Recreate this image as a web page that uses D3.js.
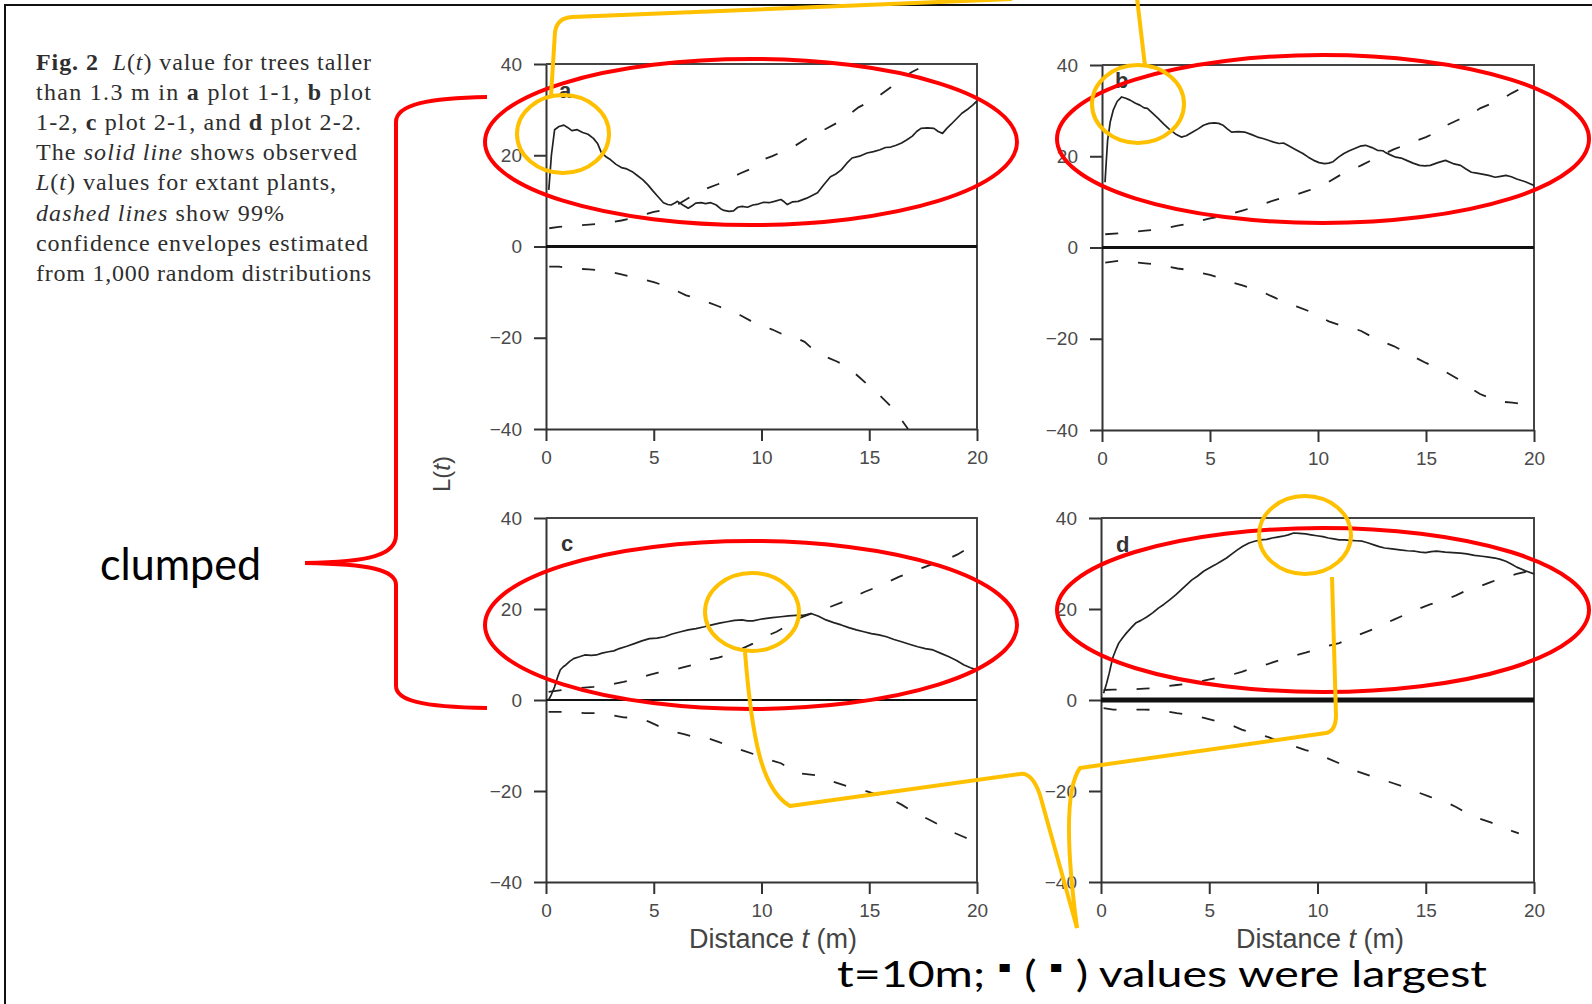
<!DOCTYPE html>
<html>
<head>
<meta charset="utf-8">
<script src="https://cdnjs.cloudflare.com/ajax/libs/d3/7.8.5/d3.min.js"></script>
<style>
  body { margin: 0; background: #fff; }
  svg { display: block; }
  .tick text { font-family: "Liberation Sans", Arial, sans-serif; font-size: 19px; fill: #4a4a4a; }
  .domain, .tick line { stroke: #333; stroke-width: 2; }
</style>
</head>
<body>
<svg id="chart" width="1592" height="1004"></svg>
<script>
// axis ticks
const xTicks = [0, 5, 10, 15, 20];
const yTicks = [-40, -20, 0, 20, 40];

// observed L(t) (solid) and 99% envelopes (dashed), [t, L]
const obsA = [[0.13,12.4],[0.25,20],[0.4,25.6],[0.6,26.3],[0.83,26.6],[1.0,26.1],[1.2,25.4],[1.45,25.6],[1.7,25.0],[1.95,24.6],[2.2,23.7],[2.4,22.5],[2.56,20.7],[2.8,19.6],[3.0,19.0],[3.25,18.0],[3.5,17.3],[3.75,17.0],[4.0,16.4],[4.25,15.5],[4.5,14.6],[4.75,13.4],[4.96,12.2],[5.2,10.9],[5.45,9.6],[5.65,9.2],[5.8,9.1],[6.0,9.6],[6.1,9.9],[6.35,9.1],[6.6,8.4],[6.8,9.0],[6.95,9.5],[7.2,9.6],[7.4,9.4],[7.65,9.6],[7.9,9.1],[8.1,8.3],[8.26,7.9],[8.5,7.7],[8.7,7.8],[8.9,8.6],[9.1,8.8],[9.35,8.6],[9.6,9.1],[9.85,9.3],[10.1,9.7],[10.35,9.6],[10.6,9.9],[10.9,10.3],[11.05,9.8],[11.2,9.2],[11.45,9.8],[11.7,9.9],[12.1,10.6],[12.35,11.2],[12.6,11.8],[12.9,13.6],[13.2,15.3],[13.45,15.9],[13.7,16.8],[13.95,18.2],[14.2,19.4],[14.55,19.8],[14.9,20.5],[15.2,20.8],[15.5,21.2],[15.75,21.7],[16.0,21.8],[16.25,22.2],[16.5,22.7],[16.75,23.4],[17.0,24.2],[17.2,25.2],[17.4,25.9],[17.7,26.0],[18.0,25.9],[18.2,25.2],[18.4,24.8],[18.6,25.9],[18.8,26.8],[19.05,28.0],[19.3,29.2],[19.6,30.2],[19.8,31.0],[20.0,31.9]];
const upA = [[0.15,4.0],[0.6,4.3],[1.0,4.4],[1.5,4.6],[2.0,4.8],[2.5,5.0],[3.0,5.3],[3.5,5.7],[4.0,6.2],[4.5,6.9],[5.0,7.6],[5.5,8.0],[6.0,8.9],[6.5,10.3],[7.0,11.8],[7.5,12.8],[8.0,13.7],[8.5,14.9],[9.0,16.0],[9.5,17.0],[10.0,18.9],[10.5,19.8],[11.0,20.9],[11.5,21.9],[12.0,23.4],[12.5,24.7],[13.0,25.8],[13.5,27.1],[14.0,28.7],[14.5,30.5],[15.0,31.7],[15.5,33.2],[16.0,34.9],[16.5,36.8],[17.0,38.3],[17.3,39.0]];
const loA = [[0.15,-4.4],[0.6,-4.4],[1.0,-4.7],[1.5,-4.9],[2.0,-5.0],[2.5,-5.2],[3.0,-5.6],[3.5,-6.1],[4.0,-6.7],[4.5,-7.2],[5.0,-7.8],[5.5,-8.6],[6.0,-9.6],[6.5,-10.7],[7.0,-11.4],[7.5,-12.2],[8.0,-13.1],[8.5,-14.0],[9.0,-15.0],[9.5,-16.3],[10.0,-17.3],[10.5,-18.2],[11.0,-19.3],[11.5,-19.8],[12.0,-20.9],[12.5,-23.0],[13.0,-24.2],[13.5,-25.2],[14.0,-26.4],[14.5,-28.5],[15.0,-30.6],[15.5,-32.7],[16.0,-35.0],[16.5,-38.0],[16.8,-40.0]];

const obsB = [[0.14,14.3],[0.2,19],[0.26,23.5],[0.38,27.5],[0.52,30.1],[0.7,32],[0.91,33.0],[1.1,32.7],[1.3,32.3],[1.55,31.6],[1.75,31.2],[1.95,30.6],[2.1,30.5],[2.35,29.4],[2.6,28.3],[2.85,27.1],[3.1,26.0],[3.4,24.9],[3.67,24.2],[3.9,24.5],[4.2,25.3],[4.45,26.0],[4.7,26.8],[4.95,27.2],[5.2,27.3],[5.4,27.2],[5.6,26.8],[5.8,26.0],[6.0,25.3],[6.3,25.4],[6.6,25.3],[6.9,24.8],[7.2,24.2],[7.45,23.9],[7.7,23.5],[7.95,23.1],[8.2,22.8],[8.4,22.9],[8.6,22.4],[8.95,21.5],[9.3,20.6],[9.55,19.8],[9.8,19.1],[10.05,18.6],[10.3,18.4],[10.5,18.5],[10.7,18.8],[10.95,19.8],[11.2,20.6],[11.45,21.2],[11.7,21.7],[11.95,22.2],[12.2,22.4],[12.5,21.9],[12.75,21.3],[13.0,21.2],[13.1,20.9],[13.35,20.3],[13.6,19.8],[13.85,19.6],[14.1,19.1],[14.4,18.5],[14.7,18.0],[14.95,17.9],[15.2,18.0],[15.55,18.6],[15.9,19.1],[16.25,18.4],[16.6,18.0],[16.85,17.2],[17.1,16.5],[17.35,16.3],[17.6,16.1],[17.9,15.8],[18.2,15.4],[18.45,15.6],[18.7,15.8],[18.95,15.5],[19.2,15.0],[19.6,14.4],[20.0,13.6]];
const upB = [[0.15,2.9],[0.8,3.1],[1.4,3.4],[2.0,3.7],[2.5,3.9],[3.0,4.3],[3.5,4.8],[4.0,5.2],[4.5,5.8],[5.0,6.4],[5.5,6.8],[6.0,7.4],[6.5,8.1],[7.0,8.8],[7.5,9.6],[8.0,10.4],[8.5,11.1],[9.0,11.6],[9.5,12.4],[10.0,13.2],[10.5,14.4],[11.0,15.8],[11.5,16.9],[12.0,18.0],[12.5,19.2],[13.0,20.4],[13.5,21.5],[14.0,22.4],[14.5,23.3],[15.0,24.2],[15.5,25.3],[16.0,26.9],[16.5,28.0],[17.0,29.0],[17.5,30.5],[18.0,31.5],[18.5,32.5],[19.0,33.9],[19.5,35.1],[20.0,36.0]];
const loB = [[0.15,-3.3],[0.8,-2.9],[1.4,-3.2],[2.0,-3.5],[2.5,-3.7],[3.0,-4.1],[3.5,-4.6],[4.0,-4.9],[4.5,-5.5],[5.0,-6.0],[5.5,-6.7],[6.0,-7.6],[6.5,-8.3],[7.0,-9.1],[7.5,-9.9],[8.0,-11.0],[8.5,-12.1],[9.0,-12.9],[9.5,-13.8],[10.0,-15.0],[10.5,-16.2],[11.0,-17.0],[11.5,-17.5],[12.0,-18.3],[12.5,-19.6],[13.0,-20.7],[13.5,-21.6],[14.0,-22.8],[14.5,-24.1],[15.0,-25.3],[15.5,-26.4],[16.0,-27.5],[16.5,-28.9],[17.0,-30.6],[17.5,-32.1],[18.0,-33.1],[18.5,-33.8],[19.0,-34.0],[19.5,-34.3],[20.0,-34.9]];

const obsC = [[0.12,0],[0.25,1.2],[0.4,2.9],[0.55,5.2],[0.66,6.6],[0.8,7.3],[0.92,7.7],[1.1,8.5],[1.28,9.1],[1.55,9.5],[1.8,9.9],[2.1,9.8],[2.34,9.9],[2.6,10.3],[2.9,10.6],[3.15,10.8],[3.4,11.3],[3.75,11.8],[4.1,12.4],[4.45,13.0],[4.8,13.5],[5.15,13.6],[5.5,13.9],[5.85,14.5],[6.25,15.0],[6.6,15.4],[6.96,15.7],[7.35,16.1],[7.7,16.5],[8.05,16.9],[8.4,17.2],[8.75,17.5],[9.1,17.6],[9.35,17.4],[9.6,17.4],[9.9,17.7],[10.15,17.9],[10.5,18.1],[10.9,18.3],[11.25,18.5],[11.6,18.6],[11.95,18.6],[12.3,19.0],[12.65,18.4],[12.99,17.6],[13.35,17.0],[13.7,16.5],[14.05,15.9],[14.4,15.4],[14.75,15.0],[15.1,14.6],[15.45,14.3],[15.8,13.9],[16.15,13.3],[16.5,12.8],[16.9,12.2],[17.25,11.7],[17.6,11.3],[17.96,11.0],[18.3,10.3],[18.7,9.5],[19.05,8.7],[19.4,7.7],[19.7,7.1],[20.0,6.6]];
const upC = [[0.12,1.8],[0.75,2.2],[1.45,2.6],[2.2,2.9],[2.7,3.3],[3.2,3.6],[3.6,4.0],[4.3,4.8],[4.8,5.5],[5.2,6.0],[5.9,6.6],[6.4,7.2],[6.8,7.7],[7.5,8.8],[8.0,9.3],[8.4,9.9],[9.1,11.3],[9.6,12.4],[10.15,13.9],[10.7,15.0],[11.2,16.4],[11.7,17.9],[12.3,19.0],[12.8,19.8],[13.2,20.5],[13.8,21.6],[14.3,22.7],[14.8,23.8],[15.4,24.9],[15.9,26.0],[16.4,27.1],[17.0,28.2],[17.5,29.1],[18.0,30.0],[18.7,31.1],[19.1,32.0],[19.55,33.3],[20.0,33.8]];
const loC = [[0.12,-2.6],[0.75,-2.6],[1.3,-2.7],[1.8,-2.9],[2.5,-2.9],[3.0,-3.3],[3.6,-3.8],[4.3,-4.0],[4.8,-4.8],[5.2,-5.7],[5.9,-6.9],[6.4,-7.5],[6.8,-8.0],[7.5,-8.4],[8.0,-9.2],[8.55,-10.2],[9.26,-11.3],[9.7,-12.0],[10.15,-12.8],[10.9,-13.9],[11.3,-15.0],[11.7,-16.1],[12.5,-16.5],[13.3,-17.9],[14.0,-19.0],[14.5,-19.6],[14.9,-20.1],[15.65,-21.2],[16.1,-22.0],[16.5,-23.0],[17.25,-25.2],[17.7,-26.1],[18.1,-27.1],[18.8,-28.9],[19.4,-30.1],[20.0,-31.4]];

const obsD = [[0.12,1.5],[0.25,3.5],[0.38,5.9],[0.47,7.8],[0.56,9.5],[0.7,11.2],[0.82,12.5],[1.0,13.7],[1.17,14.7],[1.4,15.9],[1.6,16.9],[1.85,17.5],[2.13,18.3],[2.4,19.2],[2.65,20.2],[2.9,21.0],[3.17,22.0],[3.45,23.1],[3.7,24.2],[3.95,25.3],[4.2,26.4],[4.45,27.2],[4.74,28.3],[5.0,29.0],[5.27,29.7],[5.55,30.5],[5.8,31.2],[6.05,32.1],[6.3,33.0],[6.55,33.8],[6.84,34.5],[7.1,34.9],[7.37,35.2],[7.65,35.3],[7.9,35.6],[8.15,35.8],[8.4,36.0],[8.65,36.3],[8.9,36.7],[9.15,36.6],[9.45,36.5],[9.7,36.3],[9.97,36.1],[10.25,35.9],[10.5,35.6],[10.75,35.4],[11.0,35.2],[11.25,35.2],[11.5,35.1],[11.8,35.0],[12.07,34.9],[12.35,34.5],[12.6,34.1],[12.85,33.7],[13.1,33.4],[13.45,33.2],[13.8,33.0],[14.15,32.8],[14.5,32.7],[14.75,32.5],[15.0,32.4],[15.25,32.6],[15.5,32.7],[15.9,32.5],[16.25,32.4],[16.6,32.3],[16.9,32.1],[17.25,31.8],[17.6,31.6],[17.9,31.4],[18.2,31.2],[18.45,30.9],[18.7,30.5],[18.95,29.9],[19.2,29.2],[19.6,28.4],[20.0,27.7]];
const upD = [[0.12,2.2],[0.56,2.3],[1.4,2.3],[2.0,2.5],[2.5,2.6],[3.0,3.0],[3.5,3.3],[4.2,3.7],[4.8,4.3],[5.3,4.8],[6.0,5.5],[6.5,6.2],[7.0,7.0],[7.7,7.9],[8.2,8.7],[8.75,9.5],[9.45,10.4],[10.0,11.2],[10.3,11.7],[11.0,12.5],[11.5,13.5],[11.9,14.3],[12.6,15.6],[13.0,16.6],[13.5,17.6],[14.2,19.1],[14.7,20.1],[15.2,21.0],[15.9,22.0],[16.4,23.0],[16.8,23.9],[17.5,25.0],[18.0,25.9],[18.5,26.8],[19.2,27.7],[20.0,28.6]];
const loD = [[0.12,-1.8],[0.56,-2.1],[1.4,-2.1],[2.0,-2.1],[2.5,-2.2],[3.0,-2.5],[3.5,-2.9],[4.2,-3.3],[4.8,-4.0],[5.3,-4.6],[6.0,-5.5],[6.5,-6.5],[7.0,-7.3],[7.7,-8.1],[8.2,-9.0],[8.75,-9.9],[9.45,-11.0],[10.0,-11.8],[10.3,-12.5],[11.0,-13.9],[11.5,-14.9],[11.9,-15.8],[12.6,-16.9],[13.0,-17.5],[13.5,-18.3],[14.2,-19.4],[14.7,-20.4],[15.2,-21.3],[15.9,-22.4],[16.4,-23.5],[16.8,-24.6],[17.5,-26.1],[18.0,-26.9],[18.5,-27.9],[19.0,-28.8],[19.3,-29.3]];

// caption text, [words, style]
const caption = [
  [["Fig. 2", "b"], ["  "], ["L", "i"], ["("], ["t", "i"], [") value for trees taller"]],
  [["than 1.3 m in "], ["a", "b"], [" plot 1-1, "], ["b", "b"], [" plot"]],
  [["1-2, "], ["c", "b"], [" plot 2-1, and "], ["d", "b"], [" plot 2-2."]],
  [["The "], ["solid line", "i"], [" shows observed"]],
  [["L", "i"], ["("], ["t", "i"], [") values for extant plants,"]],
  [["dashed lines", "i"], [" show 99%"]],
  [["confidence envelopes estimated"]],
  [["from 1,000 random distributions"]]
];
const captionWidths = [335, 335, 325, 321, 300, 248, 332, 335];

const svg = d3.select('#chart');
svg.append('rect').attr('width', 1592).attr('height', 1004).attr('fill', '#fff');

// slide border
svg.append('path')
  .attr('d', 'M5,1004V5H1592')
  .attr('fill', 'none').attr('stroke', '#111').attr('stroke-width', 2);

// caption
caption.forEach((line, i) => {
  const t = svg.append('text')
    .attr('x', 36).attr('y', 70 + i * 30.1)
    .attr('textLength', captionWidths[i]).attr('lengthAdjust', 'spacing')
    .style('font-family', '"Liberation Serif", "Times New Roman", serif')
    .style('font-size', '24px').style('fill', '#2e2e2e').style('white-space', 'pre');
  line.forEach(([s, st]) => {
    t.append('tspan').text(s)
      .style('font-weight', st === 'b' ? 'bold' : null)
      .style('font-style', st === 'i' ? 'italic' : null);
  });
});

const panels = [
  { id: 'a', obs: obsA, up: upA, lo: loA, x0: 546, x1: 977, y0: 64, y1: 429, zeroW: 3, lx: 559, ly: 98, xlab: null },
  { id: 'b', obs: obsB, up: upB, lo: loB, x0: 1102, x1: 1534, y0: 65, y1: 430, zeroW: 3, lx: 1115, ly: 88, xlab: null },
  { id: 'c', obs: obsC, up: upC, lo: loC, x0: 546, x1: 977, y0: 518, y1: 882, zeroW: 2, lx: 561, ly: 551, xlab: 773 },
  { id: 'd', obs: obsD, up: upD, lo: loD, x0: 1101, x1: 1534, y0: 518, y1: 882, zeroW: 5, lx: 1116, ly: 552, xlab: 1320 }
];

panels.forEach(p => {
  const x = d3.scaleLinear().domain([0, 20]).range([p.x0, p.x1]);
  const y = d3.scaleLinear().domain([-40, 40]).range([p.y1, p.y0]);
  const g = svg.append('g');

  g.append('clipPath').attr('id', 'clip-' + p.id)
    .append('rect').attr('x', p.x0).attr('y', p.y0)
    .attr('width', p.x1 - p.x0).attr('height', p.y1 - p.y0);

  g.append('g')
    .attr('transform', `translate(${p.x0},0)`)
    .call(d3.axisLeft(y).tickValues(yTicks).tickSizeInner(12).tickSizeOuter(0).tickPadding(12));

  g.append('g')
    .attr('transform', `translate(0,${p.y1})`)
    .call(d3.axisBottom(x).tickValues(xTicks).tickSizeInner(12).tickSizeOuter(0).tickPadding(10));

  g.append('path')
    .attr('d', `M${p.x0},${p.y0}H${p.x1}V${p.y1}`)
    .attr('fill', 'none').attr('stroke', '#444').attr('stroke-width', 2);

  g.append('line')
    .attr('x1', x(0)).attr('x2', x(20)).attr('y1', y(0)).attr('y2', y(0))
    .attr('stroke', '#111').attr('stroke-width', p.zeroW);

  const line = d3.line().x(d => x(d[0])).y(d => y(d[1]));
  const body = g.append('g').attr('clip-path', `url(#clip-${p.id})`);

  [p.up, p.lo].forEach(env => {
    body.append('path').datum(env)
      .attr('d', line)
      .attr('fill', 'none').attr('stroke', '#222').attr('stroke-width', 1.8)
      .attr('stroke-dasharray', '13,20');
  });

  body.append('path').datum(p.obs)
    .attr('d', line)
    .attr('fill', 'none').attr('stroke', '#222').attr('stroke-width', 1.7)
    .attr('stroke-linejoin', 'round');

  g.append('text')
    .attr('x', p.lx).attr('y', p.ly)
    .style('font-family', '"Liberation Sans", Arial, sans-serif')
    .style('font-size', '22px').style('font-weight', 'bold').style('fill', '#333')
    .text(p.id);

  if (p.xlab) {
    const t = g.append('text')
      .attr('x', p.xlab).attr('y', 948)
      .attr('text-anchor', 'middle')
      .style('font-family', '"Liberation Sans", Arial, sans-serif')
      .style('font-size', '27px').style('fill', '#444').style('white-space', 'pre');
    t.append('tspan').text('Distance ');
    t.append('tspan').style('font-style', 'italic').text('t');
    t.append('tspan').text(' (m)');
  }
});

// shared y label
const yl = svg.append('text')
  .attr('transform', 'translate(450,474) rotate(-90)')
  .attr('text-anchor', 'middle')
  .style('font-family', '"Liberation Sans", Arial, sans-serif')
  .style('font-size', '24px').style('fill', '#444');
yl.append('tspan').text('L(');
yl.append('tspan').style('font-style', 'italic').text('t');
yl.append('tspan').text(')');

// ---- slide annotations ----
const red = '#ff0000';
const gold = '#ffc000';
const ann = svg.append('g').attr('fill', 'none').attr('stroke-width', 4);

[[751, 142, 266, 83], [1323, 139, 266, 84], [751, 625, 266, 84], [1323, 610, 266, 82]].forEach(([cx, cy, rx, ry]) => {
  ann.append('ellipse').attr('cx', cx).attr('cy', cy).attr('rx', rx).attr('ry', ry).attr('stroke', red);
});

[[563, 134, 46, 39], [1138, 104, 46, 39], [752, 612, 47, 39], [1305, 535, 46, 39]].forEach(([cx, cy, rx, ry]) => {
  ann.append('ellipse').attr('cx', cx).attr('cy', cy).attr('rx', rx).attr('ry', ry).attr('stroke', gold);
});

ann.append('path').attr('stroke', gold)
  .attr('d', 'M551,96 L555,32 Q557,18 572,17 L1012,-1');
ann.append('path').attr('stroke', gold)
  .attr('d', 'M1145,66 L1137,-2');
ann.append('path').attr('stroke', gold).attr('stroke-linejoin', 'round')
  .attr('d', 'M745,652 C752,740 762,790 790,806 L1020,774 Q1032,772 1040,795 L1077,928');
ann.append('path').attr('stroke', gold).attr('stroke-linejoin', 'round')
  .attr('d', 'M1077,928 C1068,860 1064,790 1080,768 L1326,733 Q1336,731 1336,715 L1332,577');

ann.append('path').attr('stroke', red)
  .attr('d', 'M487,97 C430,98 396,104 396,122 L396,535 C396,555 370,562 305,563 C370,564 396,570 396,585 L396,686 C396,700 420,707 487,708');

svg.append('text')
  .attr('x', 100).attr('y', 580)
  .attr('textLength', 161).attr('lengthAdjust', 'spacingAndGlyphs')
  .style('font-family', 'Lato, "Open Sans", sans-serif')
  .style('font-size', '44px').style('fill', '#000')
  .text('clumped');

const note = svg.append('text')
  .attr('x', 837).attr('y', 987)
  .attr('textLength', 650).attr('lengthAdjust', 'spacingAndGlyphs')
  .style('font-family', 'Lato, "Open Sans", sans-serif')
  .style('font-size', '37px').style('fill', '#000').style('white-space', 'pre');
note.append('tspan').text('t=10m; ');
note.append('tspan').attr('dy', -9).style('font-size', '30px').text('▪');
note.append('tspan').attr('dy', 9).text(' ( ');
note.append('tspan').attr('dy', -9).style('font-size', '30px').text('▪');
note.append('tspan').attr('dy', 9).text(' ) values were largest');
</script>
</body>
</html>
